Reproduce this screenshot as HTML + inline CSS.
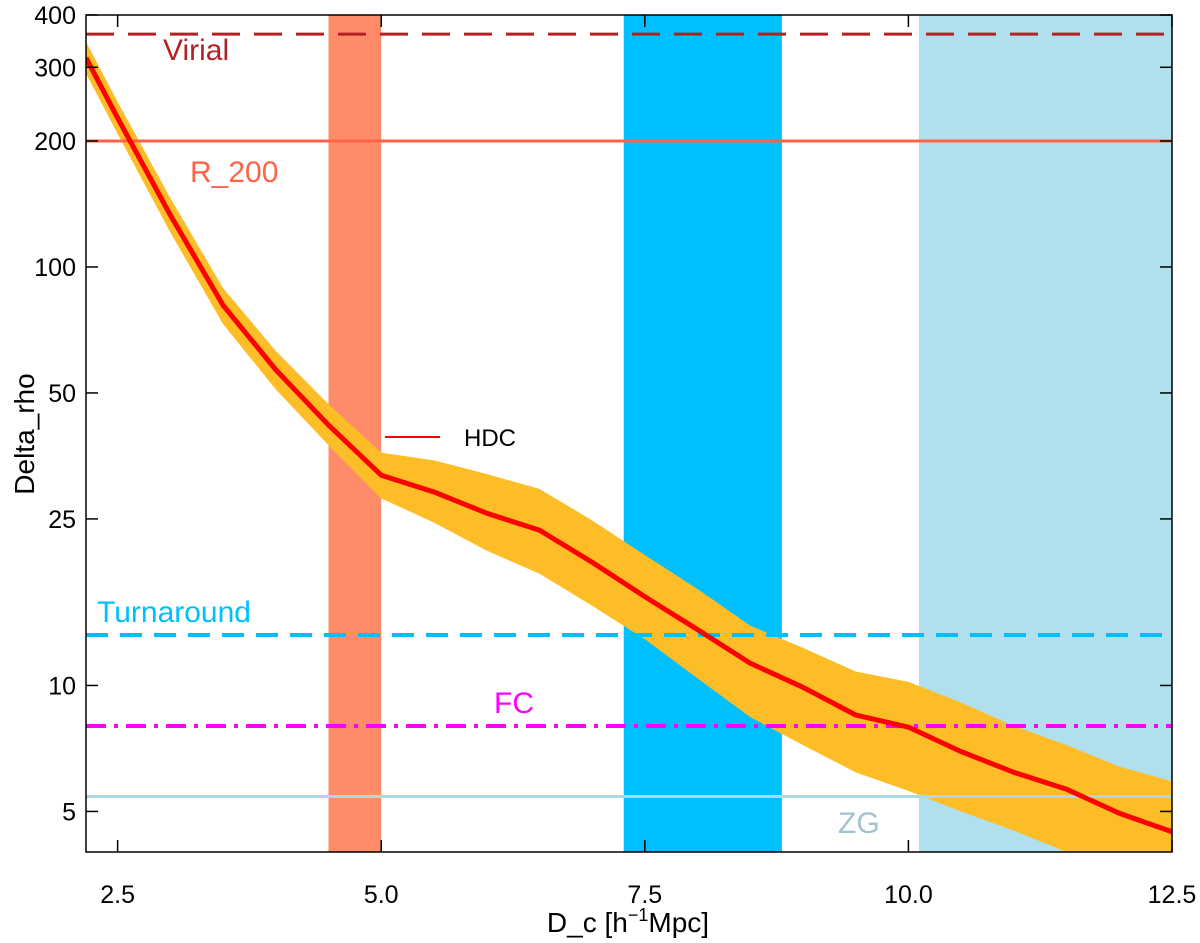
<!DOCTYPE html>
<html><head><meta charset="utf-8"><style>body{margin:0;background:#fff}svg{display:block;font-family:"Liberation Sans",Arial,sans-serif}</style></head>
<body>
<svg id="chart" width="1200" height="943"></svg>
<script>
const xs=[2.2,2.5,3.0,3.5,4.0,4.5,5.0,5.5,6.0,6.5,7.0,7.5,8.0,8.5,9.0,9.5,10.0,10.5,11.0,11.5,12.0,12.5];
const hdc=[316,227,133,81,56.8,41.9,31.8,29,25.8,23.5,19.7,16.3,13.6,11.3,9.9,8.5,7.95,6.95,6.2,5.65,4.95,4.47];
const upper=[345,248,146,89,63,47,36,34.5,32,29.5,24.8,20.5,17,13.9,12.3,10.8,10.2,9.1,8.0,7.2,6.4,5.9];
const lower=[290,208,121,73,51,37.5,28,24.5,21,18.5,15.5,12.9,10.4,8.4,7.2,6.2,5.6,5.0,4.5,4.0,3.6,3.3];
const xTicks=[2.5,5.0,7.5,10.0,12.5];
const xTickLabels=["2.5","5.0","7.5","10.0","12.5"];
const yTicks=[5,10,25,50,100,200,300,400];
const yTickLabels=["5","10","25","50","100","200","300","400"];
const bands=[{name:"band-r200",x0:4.5,x1:5.0,c:"#ff8c69"},{name:"band-turnaround",x0:7.3,x1:8.8,c:"#00bfff"},{name:"band-zg",x0:10.1,x1:12.5,c:"#b0dfee"}];
const refVals=[360,200,13.2,8.0,5.43];
const refNames=["Virial","R_200","Turnaround","FC","ZG"];
const L=86,R=1172,T=15,B=852,XMIN=2.2,XMAX=12.5,YMIN=4,YMAX=400;
const X=v=>L+(v-XMIN)/(XMAX-XMIN)*(R-L);
const Y=v=>B-(Math.log10(v)-Math.log10(YMIN))/(Math.log10(YMAX)-Math.log10(YMIN))*(B-T);
const NS="http://www.w3.org/2000/svg",svg=document.getElementById('chart');
function mk(t,a,p){const e=document.createElementNS(NS,t);for(const k in a)e.setAttribute(k,a[k]);(p||svg).appendChild(e);return e;}
const defs=mk('defs',{});const cp=mk('clipPath',{id:'c'},defs);mk('rect',{x:L,y:T,width:R-L,height:B-T},cp);
const g=mk('g',{'clip-path':'url(#c)'});
bands.forEach(b=>{const r=mk('rect',{x:X(b.x0),y:T,width:X(b.x1)-X(b.x0),height:B-T,fill:b.c},g);

});
let d='';xs.forEach((x,i)=>d+=(i?'L':'M')+X(x)+','+Y(upper[i]));
for(let i=xs.length-1;i>=0;i--)d+='L'+X(xs[i])+','+Y(lower[i]);
const band=mk('path',{d:d+'Z',fill:'#fdbd26'},g);


const styles=[{c:"#b22222",da:"28,14",w:3},{c:"#ff6347",da:"",w:3},{c:"#00bfff",da:"22,12",w:4},{c:"#ff00ff",da:"20,8,4,8",w:4},{c:"#add8e6",da:"",w:3}];
refVals.forEach((v,i)=>{const l=mk('line',{x1:L,x2:R,y1:Y(v),y2:Y(v),stroke:styles[i].c,'stroke-width':styles[i].w,'stroke-dasharray':styles[i].da},g);

});
let p='';xs.forEach((x,i)=>p+=(i?'L':'M')+X(x)+','+Y(hdc[i]));
const ln=mk('path',{d:p,fill:'none',stroke:'#ff0000','stroke-width':5,'stroke-linejoin':'round'},g);


mk('rect',{x:L,y:T,width:R-L,height:B-T,fill:'none',stroke:'#000','stroke-width':1.5});
xTicks.forEach((v,i)=>{const x=X(v);
mk('line',{x1:x,x2:x,y1:B,y2:B-12,stroke:'#000','stroke-width':1.5});
mk('line',{x1:x,x2:x,y1:T,y2:T+12,stroke:'#000','stroke-width':1.5});
const t=mk('text',{x:x,y:B+51,'text-anchor':'middle','font-size':25});t.textContent=xTickLabels[i];

});
yTicks.forEach((v,i)=>{const y=Y(v);
mk('line',{x1:L,x2:L+12,y1:y,y2:y,stroke:'#000','stroke-width':1.5});
mk('line',{x1:R,x2:R-12,y1:y,y2:y,stroke:'#000','stroke-width':1.5});
const t=mk('text',{x:L-10,y:y+9,'text-anchor':'end','font-size':25});t.textContent=yTickLabels[i];

});
const labs=[["Virial",163,60,"#b22222"],["R_200",190,182,"#ff6347"],["Turnaround",97,622,"#00bfff"],["FC",494,713,"#ff00ff"],["ZG",838,833,"#9fc3d2"]];
labs.forEach(a=>{const t=mk('text',{x:a[1],y:a[2],fill:a[3],'font-size':30});t.textContent=a[0];

});
const lg=mk('line',{x1:385,x2:440,y1:437,y2:437,stroke:'#ff0000','stroke-width':2});


const lt=mk('text',{x:464,y:446,'font-size':24});lt.textContent='HDC';


const xl=mk('text',{x:628,y:932,'text-anchor':'middle','font-size':28});
xl.innerHTML='D_c [h<tspan dy="-11" font-size="18">−1</tspan><tspan dy="11">Mpc]</tspan>';


const yl=mk('text',{x:0,y:0,'text-anchor':'middle','font-size':28,transform:'translate(34,434) rotate(-90)'});yl.textContent='Delta_rho';


</script>
</body></html>
